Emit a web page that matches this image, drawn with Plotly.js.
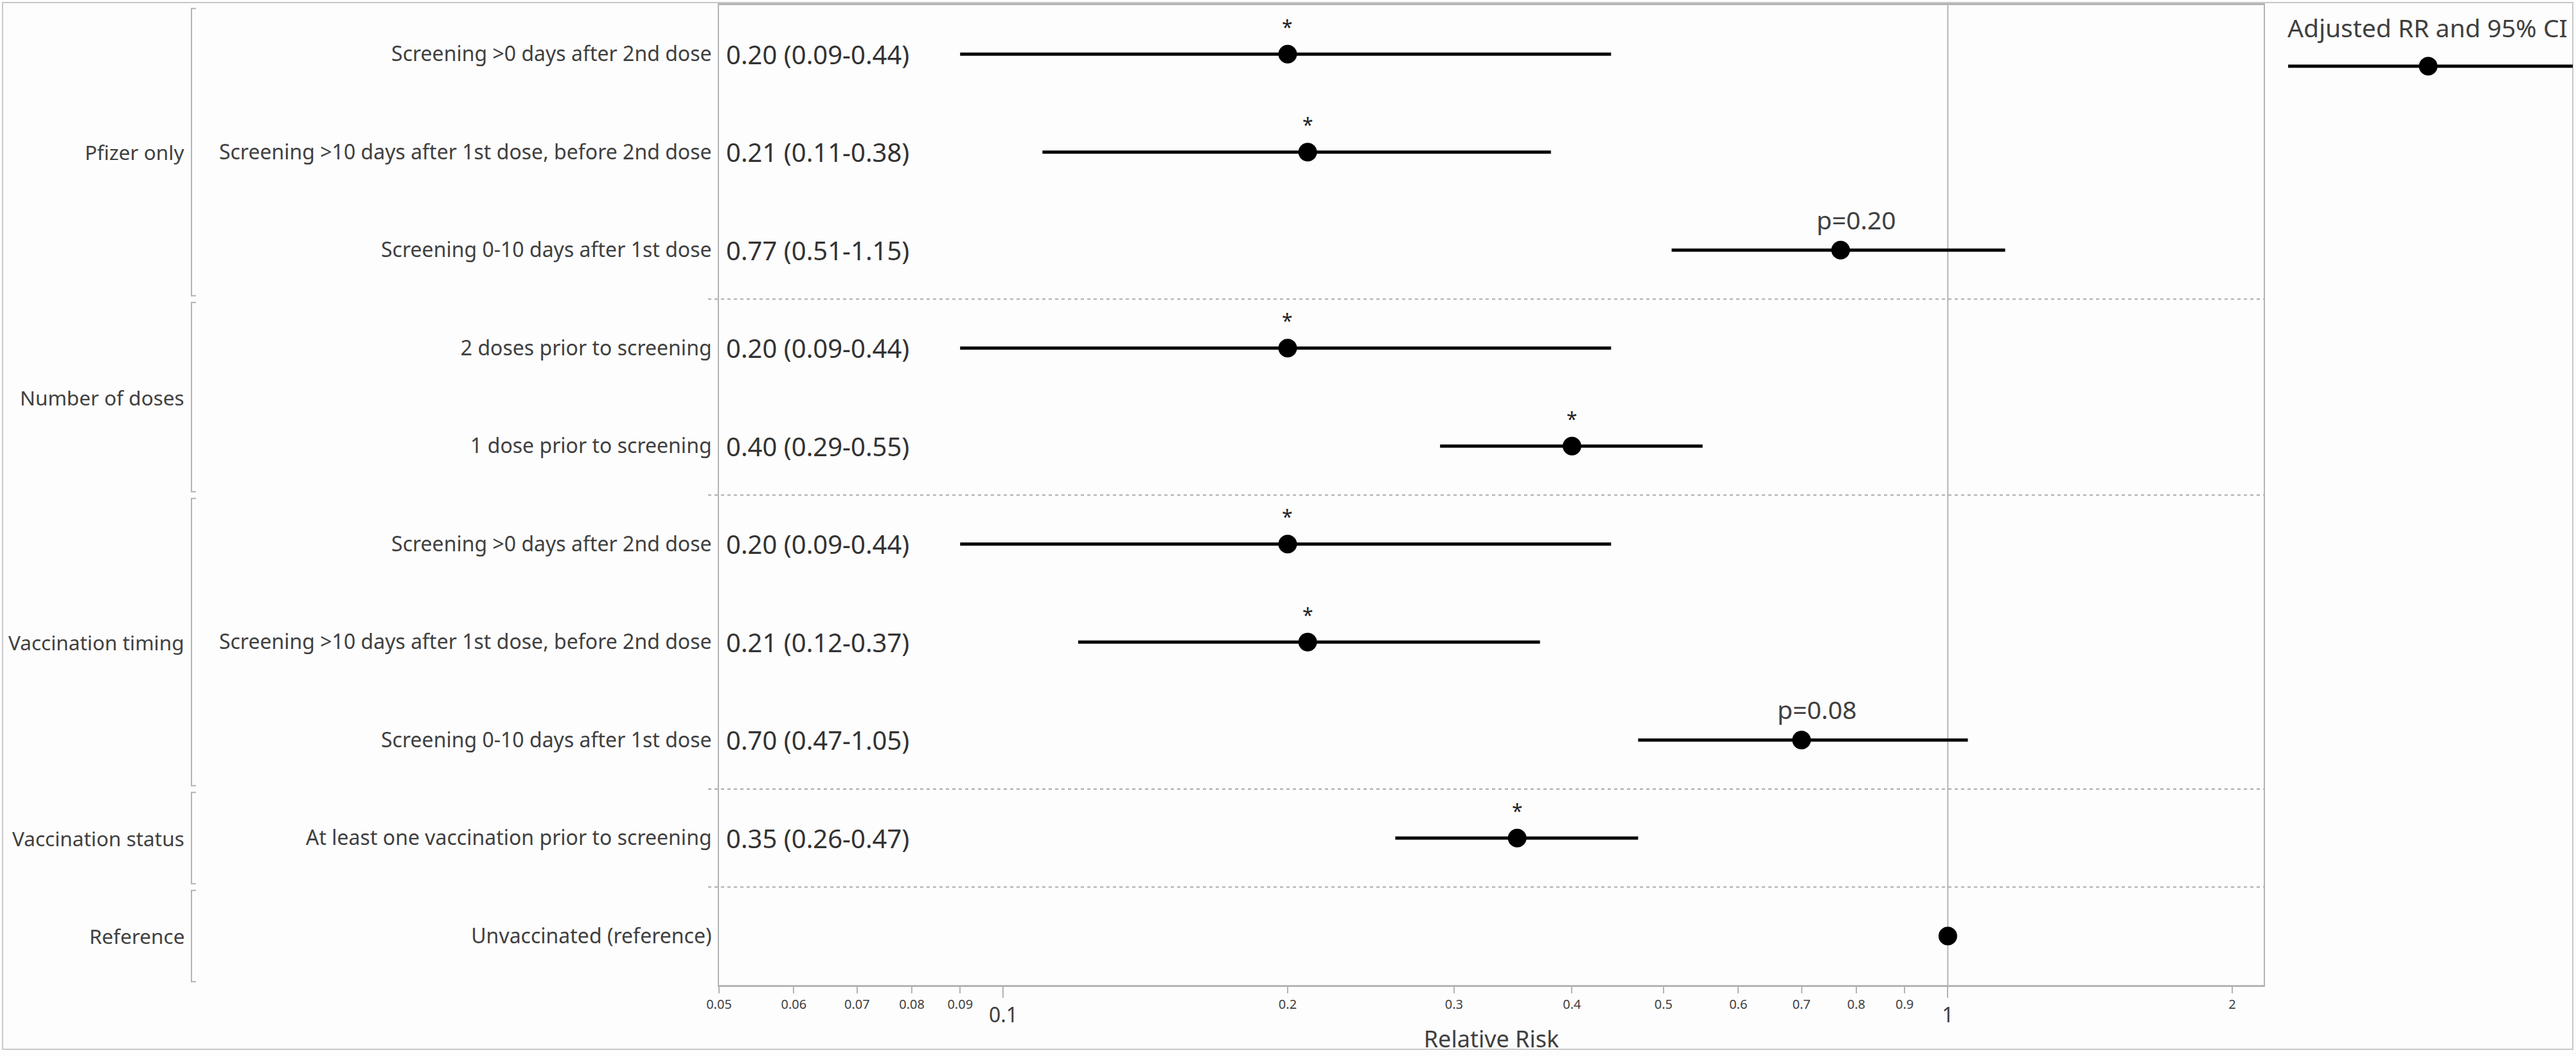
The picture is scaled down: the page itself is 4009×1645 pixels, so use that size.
<!DOCTYPE html>
<html>
<head>
<meta charset="utf-8">
<script src="https://cdn.plot.ly/plotly-3.0.1.min.js"></script>
<style>html,body{margin:0;padding:0;background:#fdfdfd;}#chart{width:4009px;height:1645px;}</style>
</head>
<body>
<div id="chart"></div>
<script>
// ---- data ----
const groupNames = ['Pfizer only', 'Number of doses', 'Vaccination timing', 'Vaccination status', 'Reference'];
const groupSizes = [3, 2, 3, 1, 1];
const rowLabels = [
  'Screening >0 days after 2nd dose',
  'Screening >10 days after 1st dose, before 2nd dose',
  'Screening 0-10 days after 1st dose',
  '2 doses prior to screening',
  '1 dose prior to screening',
  'Screening >0 days after 2nd dose',
  'Screening >10 days after 1st dose, before 2nd dose',
  'Screening 0-10 days after 1st dose',
  'At least one vaccination prior to screening',
  'Unvaccinated (reference)'
];
const rr     = [0.20, 0.21, 0.77, 0.20, 0.40, 0.20, 0.21, 0.70, 0.35, 1.00];
const ciLow  = [0.09, 0.11, 0.51, 0.09, 0.29, 0.09, 0.12, 0.47, 0.26, null];
const ciHigh = [0.44, 0.38, 1.15, 0.44, 0.55, 0.44, 0.37, 1.05, 0.47, null];
const sigLabels = ['*', '*', 'p=0.20', '*', '*', '*', '*', 'p=0.08', '*', ''];
const referenceValue = 1;
const minorTickVals = [0.05, 0.06, 0.07, 0.08, 0.09, 0.2, 0.3, 0.4, 0.5, 0.6, 0.7, 0.8, 0.9, 2];
const minorTickText = ['0.05', '0.06', '0.07', '0.08', '0.09', '0.2', '0.3', '0.4', '0.5', '0.6', '0.7', '0.8', '0.9', '2'];
const majorTickVals = [0.1, 1];
const majorTickText = ['0.1', '1'];
const xMin = 0.05, xMax = 2.16;
const legendLabel = 'Adjusted RR and 95% CI';
const xTitle = 'Relative Risk';

// ---- styling ----
const FONT = 'Noto Sans, Open Sans, DejaVu Sans, sans-serif';
const TXT = '#404040';
const FRAME = '#b4b4b4';
const rows = rowLabels.map((_, i) => i);
const plotLeft = 1119, plotRight = 3523, plotTop = 8, plotBottom = 1533;

const trace = {
  type: 'scatter', mode: 'markers', name: legendLabel,
  x: rr, y: rows,
  marker: {size: 29, color: '#000'},
  error_x: {
    type: 'data', symmetric: false,
    array: rr.map((v, i) => ciHigh[i] == null ? 0 : ciHigh[i] - v),
    arrayminus: rr.map((v, i) => ciLow[i] == null ? 0 : v - ciLow[i]),
    color: '#000', thickness: 5, width: 0
  },
  showlegend: false, hoverinfo: 'x+y', cliponaxis: false
};
// same points bound to the overlay axis that carries the 0.1 / 1 labels (invisible)
const traceMajorAxis = {
  type: 'scatter', mode: 'markers', x: rr, y: rows, xaxis: 'x2', yaxis: 'y',
  marker: {size: 1, opacity: 0}, showlegend: false, hoverinfo: 'skip'
};

const annotations = [];
// value labels
rr.forEach((v, i) => {
  if (ciLow[i] == null) return;
  annotations.push({
    xref: 'paper', x: 0, xanchor: 'left', xshift: 9,
    yref: 'y', y: i, yanchor: 'middle',
    text: v.toFixed(2) + ' (' + ciLow[i].toFixed(2) + '-' + ciHigh[i].toFixed(2) + ')',
    showarrow: false, font: {family: FONT, size: 40, color: '#333'}
  });
});
// significance labels
sigLabels.forEach((s, i) => {
  if (!s) return;
  const isStar = s === '*';
  annotations.push({
    xref: 'x', x: Math.log10(rr[i]), xanchor: 'center', xshift: isStar ? 0 : 24,
    yref: 'y', y: i, yanchor: 'middle', yshift: isStar ? 43 : 48,
    text: s, showarrow: false,
    font: {family: FONT, size: isStar ? 30 : 39, color: isStar ? '#222' : TXT}
  });
});
// group labels + brackets
const shapes = [];
let start = 0;
groupNames.forEach((g, gi) => {
  const n = groupSizes[gi];
  const y0 = start - 0.5 + 0.035, y1 = start + n - 0.5 - 0.035;
  annotations.push({
    xref: 'paper', x: 0, xanchor: 'right', xshift: 289 - plotLeft,
    yref: 'y', y: start + (n - 1) / 2, yanchor: 'middle',
    text: g, showarrow: false, font: {family: FONT, size: 31.5, color: TXT}
  });
  shapes.push({
    type: 'path', xref: 'paper', xsizemode: 'pixel', xanchor: 0, yref: 'y',
    path: `M ${305 - plotLeft} ${y0} L ${298 - plotLeft} ${y0} L ${298 - plotLeft} ${y1} L ${305 - plotLeft} ${y1}`,
    line: {color: FRAME, width: 2}
  });
  if (gi < groupNames.length - 1) {
    shapes.push({
      type: 'line', xref: 'paper', xsizemode: 'pixel', xanchor: 0,
      x0: 1102 - plotLeft, x1: plotRight - plotLeft,
      yref: 'y', y0: start + n - 0.5, y1: start + n - 0.5,
      line: {color: '#aaaaaa', width: 2, dash: '5px,5px'}
    });
  }
  start += n;
});
// reference vertical line at RR = 1
shapes.push({
  type: 'line', xref: 'x', x0: referenceValue, x1: referenceValue,
  yref: 'paper', y0: 0, y1: 1, line: {color: FRAME, width: 2}, layer: 'below'
});
// outer frame
shapes.push({
  type: 'rect', xref: 'paper', xsizemode: 'pixel', xanchor: 0,
  x0: 4 - plotLeft, x1: 4004 - plotLeft,
  yref: 'paper', ysizemode: 'pixel', yanchor: 0,
  y0: plotBottom - 1633, y1: plotBottom - 4,
  line: {color: '#c8c8c8', width: 2}, fillcolor: 'rgba(0,0,0,0)'
});
// legend (drawn in the right margin)
annotations.push({
  xref: 'paper', x: 1, xanchor: 'left', xshift: 3561 - plotRight - 3,
  yref: 'paper', y: 1, yanchor: 'middle', yshift: -(42 - plotTop),
  text: legendLabel, showarrow: false, font: {family: FONT, size: 39, color: TXT}
});
shapes.push({
  type: 'line', xref: 'paper', xsizemode: 'pixel', xanchor: 1,
  x0: 3561 - plotRight, x1: 4004 - plotRight,
  yref: 'paper', ysizemode: 'pixel', yanchor: 1,
  y0: -(103 - plotTop), y1: -(103 - plotTop),
  line: {color: '#000', width: 5}
});
shapes.push({
  type: 'circle', xref: 'paper', xsizemode: 'pixel', xanchor: 1,
  x0: 3779 - plotRight - 14.5, x1: 3779 - plotRight + 14.5,
  yref: 'paper', ysizemode: 'pixel', yanchor: 1,
  y0: -(103 - plotTop) - 14.5, y1: -(103 - plotTop) + 14.5,
  line: {color: '#000', width: 0}, fillcolor: '#000'
});

const layout = {
  width: 4009, height: 1645,
  margin: {l: plotLeft, r: 4009 - plotRight, t: plotTop, b: 1645 - plotBottom, pad: 0},
  paper_bgcolor: '#fdfdfd', plot_bgcolor: '#fdfdfd',
  font: {family: FONT, color: TXT},
  showlegend: false,
  xaxis: {
    type: 'log', range: [Math.log10(xMin), Math.log10(xMax)],
    tickmode: 'array', tickvals: minorTickVals, ticktext: minorTickText,
    ticks: 'outside', ticklen: 10, tickwidth: 2, tickcolor: FRAME,
    tickfont: {family: FONT, size: 20, color: TXT},
    showgrid: false, zeroline: false,
    showline: true, mirror: true, linecolor: FRAME, linewidth: 3,
    title: {text: xTitle, font: {family: FONT, size: 36, color: TXT}, standoff: 30},
    fixedrange: true
  },
  xaxis2: {
    type: 'log', range: [Math.log10(xMin), Math.log10(xMax)],
    overlaying: 'x', anchor: 'y', side: 'bottom',
    tickmode: 'array', tickvals: majorTickVals, ticktext: majorTickText,
    ticks: 'outside', ticklen: 19, tickwidth: 2, tickcolor: FRAME,
    tickfont: {family: FONT, size: 32, color: TXT},
    showgrid: false, zeroline: false, showline: false, fixedrange: true
  },
  yaxis: {
    range: [rows.length - 0.5, -0.5],
    tickmode: 'array', tickvals: rows, ticktext: rowLabels,
    ticks: '', ticklabelstandoff: 3,
    tickfont: {family: FONT, size: 32, color: TXT},
    showgrid: false, zeroline: false,
    showline: true, mirror: true, linecolor: FRAME, linewidth: 2,
    fixedrange: true
  },
  annotations: annotations,
  shapes: shapes
};

Plotly.newPlot('chart', [traceMajorAxis, trace], layout, {displayModeBar: false, staticPlot: true});
</script>
</body>
</html>
